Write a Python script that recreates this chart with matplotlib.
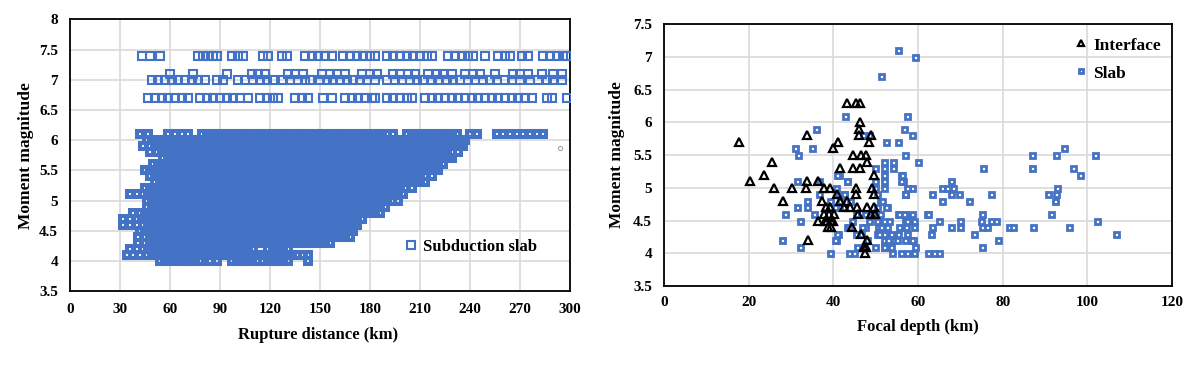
import matplotlib
matplotlib.use('Agg')
import matplotlib.pyplot as plt

plt.rcParams['font.family'] = 'Liberation Serif'
plt.rcParams['font.weight'] = 'bold'

# ---- left panel: subduction slab records, rupture distance (km) per magnitude row
r74 = [43, 48, 54, 77, 80, 83, 86, 88, 97, 101, 104, 116, 119, 127, 130, 141, 145, 149, 153, 157,
       164, 168, 172, 176, 180, 183, 190, 194, 198, 202, 206, 210, 214, 217, 227, 231, 235, 239, 242,
       249, 257, 261, 264, 271, 275, 284, 288, 292, 296, 298]
r71 = [60, 74, 94, 109, 113, 117, 131, 135, 140, 151, 156, 160, 165, 175, 180, 184, 194, 198, 203,
       207, 215, 220, 224, 229, 237, 242, 246, 255, 266, 270, 275, 283, 290, 295]
r70 = [49, 53, 57, 61, 65, 69, 73, 77, 81, 88, 92, 101, 105, 110, 114, 118, 122, 128, 132, 137, 141,
       144, 150, 154, 158, 162, 166, 170, 174, 178, 183, 190, 195, 199, 204, 208, 212, 217, 221, 226,
       230, 234, 239, 243, 248, 252, 256, 261, 265, 270, 276, 281, 286, 290, 295]
r67 = [47, 51, 55, 59, 63, 67, 71, 78, 82, 86, 90, 94, 98, 102, 107, 114, 118, 122, 125, 135, 139,
       143, 152, 157, 165, 169, 173, 177, 181, 183, 190, 194, 198, 202, 205, 213, 217, 221, 225, 229,
       233, 237, 241, 245, 249, 253, 257, 261, 265, 269, 273, 277, 286, 289, 298]
r61 = [42, 47, 59, 63, 67, 71, 79, 82, 85, 88, 91, 94, 97, 100, 103, 106, 109, 112, 115, 118, 121,
       124, 127, 130, 133, 136, 139, 142, 145, 148, 151, 154, 157, 160, 163, 166, 169, 172, 175, 178,
       181, 184, 187, 190, 194, 202, 205, 208, 211, 214, 217, 220, 223, 226, 229, 232, 240, 244, 256,
       260, 264, 268, 272, 276, 280, 284]
r60 = [46, 49, 52, 55, 58, 61, 64, 67, 70, 73, 76, 79, 82, 85, 88, 91, 94, 97, 100, 103, 106, 109,
       112, 115, 118, 121, 124, 127, 130, 133, 136, 139, 142, 145, 148, 151, 154, 157, 160, 163, 166,
       169, 172, 175, 178, 181, 184, 187, 190, 193, 196, 199, 202, 205, 208, 211, 214, 217, 220, 223,
       226, 229, 232, 235, 237]
r59 = [44, 48, 51, 54, 57, 60, 63, 66, 69, 72, 75, 78, 81, 84, 87, 90, 93, 96, 99, 102, 105, 108,
       111, 114, 117, 120, 123, 126, 129, 132, 135, 138, 141, 144, 147, 150, 153, 156, 159, 162, 165,
       168, 171, 174, 177, 180, 183, 186, 189, 192, 195, 198, 201, 204, 207, 210, 213, 216, 219, 222,
       225, 228, 231, 234, 236]
r58 = [48, 52, 55, 58, 61, 64, 67, 70, 73, 76, 79, 82, 85, 88, 91, 94, 97, 100, 103, 106, 109, 112,
       115, 118, 121, 124, 127, 130, 133, 136, 139, 142, 145, 148, 151, 154, 157, 160, 163, 166, 169,
       172, 175, 178, 181, 184, 187, 190, 193, 196, 199, 202, 205, 208, 211, 214, 217, 220, 223, 226,
       229, 233]
r57 = [56, 59, 62, 65, 68, 71, 74, 77, 80, 83, 86, 89, 92, 95, 98, 101, 104, 107, 110, 113, 116,
       119, 122, 125, 128, 131, 134, 137, 140, 143, 146, 149, 152, 155, 158, 161, 164, 167, 170, 173,
       176, 179, 182, 185, 188, 191, 194, 197, 200, 203, 206, 209, 212, 215, 218, 221, 224, 227, 229]
r56 = [50, 53, 56, 59, 62, 65, 68, 71, 74, 77, 80, 83, 86, 89, 92, 95, 98, 101, 104, 107, 110, 113,
       116, 119, 122, 125, 128, 131, 134, 137, 140, 143, 146, 149, 152, 155, 158, 161, 164, 167, 170,
       173, 176, 179, 182, 185, 188, 191, 194, 197, 200, 203, 206, 209, 212, 215, 218, 221, 224]
r55 = [45, 48, 51, 54, 57, 60, 63, 66, 69, 72, 75, 78, 81, 84, 87, 90, 93, 96, 99, 102, 105, 108,
       111, 114, 117, 120, 123, 126, 129, 132, 135, 138, 141, 144, 147, 150, 153, 156, 159, 162, 165,
       168, 171, 174, 177, 180, 183, 186, 189, 192, 195, 198, 201, 204, 207, 210, 213, 216, 219, 221]
r54 = [48, 51, 54, 57, 60, 63, 66, 69, 72, 75, 78, 81, 84, 87, 90, 93, 96, 99, 102, 105, 108, 111,
       114, 117, 120, 123, 126, 129, 132, 135, 138, 141, 144, 147, 150, 153, 156, 159, 162, 165, 168,
       171, 174, 177, 180, 183, 186, 189, 192, 195, 198, 201, 204, 207, 210, 213, 217]
r53 = [51, 54, 57, 60, 63, 66, 69, 72, 75, 78, 81, 84, 87, 90, 93, 96, 99, 102, 105, 108, 111, 114,
       117, 120, 123, 126, 129, 132, 135, 138, 141, 144, 147, 150, 153, 156, 159, 162, 165, 168, 171,
       174, 177, 180, 183, 186, 189, 192, 195, 198, 201, 204, 207, 210, 213]
r52 = [45, 48, 51, 54, 57, 60, 63, 66, 69, 72, 75, 78, 81, 84, 87, 90, 93, 96, 99, 102, 105, 108,
       111, 114, 117, 120, 123, 126, 129, 132, 135, 138, 141, 144, 147, 150, 153, 156, 159, 162, 165,
       168, 171, 174, 177, 180, 183, 186, 189, 192, 195, 198, 201, 205]
r51 = [36, 40, 44, 47, 50, 53, 56, 59, 62, 65, 68, 71, 74, 77, 80, 83, 86, 89, 92, 95, 98, 101, 104,
       107, 110, 113, 116, 119, 122, 125, 128, 131, 134, 137, 140, 143, 146, 149, 152, 155, 158, 161,
       164, 167, 170, 173, 176, 179, 182, 185, 188, 191, 194, 197, 200]
r50 = [46, 49, 52, 55, 58, 61, 64, 67, 70, 73, 76, 79, 82, 85, 88, 91, 94, 97, 100, 103, 106, 109,
       112, 115, 118, 121, 124, 127, 130, 133, 136, 139, 142, 145, 148, 151, 154, 157, 160, 163, 166,
       169, 172, 175, 178, 181, 184, 187, 190, 193, 197]
r49 = [46, 49, 52, 55, 58, 61, 64, 67, 70, 73, 76, 79, 82, 85, 88, 91, 94, 97, 100, 103, 106, 109,
       112, 115, 118, 121, 124, 127, 130, 133, 136, 139, 142, 145, 148, 151, 154, 157, 160, 163, 166,
       169, 172, 175, 178, 181, 184, 186, 189]
r48 = [38, 42, 45, 48, 51, 54, 57, 60, 63, 66, 69, 72, 75, 78, 81, 84, 87, 90, 93, 96, 99, 102, 105,
       108, 111, 114, 117, 120, 123, 126, 129, 132, 135, 138, 141, 144, 147, 150, 153, 156, 159, 162,
       165, 168, 171, 174, 177, 180, 183, 186]
r47 = [32, 36, 40, 43, 46, 49, 52, 55, 58, 61, 64, 67, 70, 73, 76, 79, 82, 85, 88, 91, 94, 97, 100,
       103, 106, 109, 112, 115, 118, 121, 124, 127, 130, 133, 136, 139, 142, 145, 148, 151, 154, 157,
       160, 163, 166, 169, 172, 175]
r46 = [32, 36, 40, 44, 47, 50, 53, 56, 59, 62, 65, 68, 71, 74, 77, 80, 83, 86, 89, 92, 95, 98, 101,
       104, 107, 110, 113, 116, 119, 122, 125, 128, 131, 134, 137, 140, 143, 146, 149, 152, 155, 158,
       161, 164, 167, 170, 172]
r45 = [42, 45, 48, 51, 54, 57, 60, 63, 66, 69, 72, 75, 78, 81, 84, 87, 90, 93, 96, 99, 102, 105, 108,
       111, 114, 117, 120, 123, 126, 129, 132, 135, 138, 141, 144, 147, 150, 153, 156, 159, 162, 165,
       168, 170]
r44 = [41, 45, 48, 51, 54, 57, 60, 63, 66, 69, 72, 75, 78, 81, 84, 87, 90, 93, 96, 99, 102, 105, 108,
       111, 114, 117, 120, 123, 126, 129, 132, 135, 138, 141, 144, 147, 150, 153, 156, 159, 162, 165,
       168]
r43 = [41, 45, 48, 51, 54, 57, 60, 63, 66, 69, 72, 75, 78, 81, 84, 87, 90, 93, 96, 99, 102, 105, 108,
       111, 114, 117, 120, 123, 126, 129, 132, 135, 138, 141, 144, 147, 150, 153, 156]
r42 = [36, 40, 44, 47, 50, 53, 56, 59, 62, 65, 68, 71, 74, 77, 80, 83, 86, 89, 92, 95, 98, 101, 104,
       107, 110, 119, 122, 125, 128, 131]
r41 = [34, 38, 42, 46, 49, 52, 55, 58, 61, 64, 67, 70, 73, 76, 79, 82, 85, 88, 91, 94, 97, 100, 103,
       106, 109, 112, 115, 118, 121, 124, 127, 130, 133, 136, 140, 143]
r40 = [54, 57, 60, 63, 66, 69, 72, 75, 78, 84, 88, 97, 100, 103, 106, 109, 112, 116, 119, 122, 125,
       128, 131, 143]
sparse_mags = [7.4, 7.1, 7.0, 6.7]
sparse_dists = [r74, r71, r70, r67]
dense_mags = [6.1, 6.0, 5.9, 5.8, 5.7, 5.6, 5.5, 5.4, 5.3, 5.2, 5.1, 5.0,
              4.9, 4.8, 4.7, 4.6, 4.5, 4.4, 4.3, 4.2, 4.1, 4.0]
dense_dists = [r61, r60, r59, r58, r57, r56, r55, r54, r53, r52, r51, r50,
               r49, r48, r47, r46, r45, r44, r43, r42, r41, r40]
odd_dist, odd_mag = [294], [5.87]

# ---- right panel: focal depth (km) vs magnitude
iface_depth = [17.6, 20.2, 23.6, 25.6, 26.0, 28.0, 30.2, 33.6, 33.8, 33.8, 34.0, 36.3, 36.4, 37.3,
               37.7, 37.9, 38.6, 38.7, 39.0, 39.2, 39.3, 39.5, 39.9, 40.2, 40.9, 41.0, 41.5, 41.5,
               42.5, 43.2, 43.2, 44.0, 44.4, 44.6, 44.7, 45.4, 45.4, 45.4, 45.6, 45.7, 46.0, 46.0,
               46.2, 46.2, 46.4, 46.6, 47.3, 47.4, 47.8, 47.8, 48.0, 48.0, 48.0, 48.4, 48.8, 48.8,
               49.2, 49.5, 49.5, 49.7, 49.8, 38.0, 39.5, 40.0, 38.3, 46.6]
iface_mag = [5.7, 5.1, 5.2, 5.4, 5.0, 4.8, 5.0, 5.0, 5.1, 5.8, 4.2, 4.5, 5.1, 4.8,
             4.6, 5.0, 4.5, 4.4, 4.6, 4.7, 5.0, 4.5, 5.6, 4.6, 4.9, 5.7, 4.8, 5.3,
             4.7, 6.3, 4.8, 4.7, 4.4, 5.3, 5.5, 5.0, 4.9, 6.3, 4.7, 4.6, 5.9, 5.8,
             6.3, 6.0, 5.3, 5.5, 4.1, 4.0, 4.1, 5.5, 5.4, 4.7, 4.2, 5.7, 5.8, 4.6,
             5.0, 4.9, 4.7, 5.2, 4.6, 4.5, 4.4, 4.5, 4.7, 4.3]
slab_depth = [55.2, 59.3, 51.3, 42.8, 57.4, 36.0, 56.6, 58.6, 47.1, 48.3, 31.0, 35.0, 31.6, 52.5,
              55.3, 56.8, 60.0, 49.9, 51.9, 54.0, 52.0, 54.1, 52.0, 55.9, 49.9, 52.0, 56.4, 58.6,
              57.0, 49.9, 52.0, 50.2, 51.1, 52.7, 50.2, 41.3, 43.2, 40.7, 42.4, 41.1, 39.3, 40.1,
              41.4, 44.0, 31.4, 33.8, 31.4, 33.7, 35.5, 28.6, 32.0, 36.5, 36.5, 27.9, 32.2, 39.3,
              40.7, 41.0, 43.2, 44.4, 45.3, 43.6, 44.8, 45.5, 48.0, 50.2, 52.0, 53.6, 52.7, 50.5,
              55.2, 56.8, 58.7, 55.5, 57.1, 55.3, 56.8, 58.6, 57.0, 59.0, 62.2, 53.9, 55.9, 57.4,
              59.0, 49.9, 52.0, 46.3, 47.4, 46.8, 48.4, 50.4, 43.6, 45.3, 47.4, 49.3, 75.3, 87.0,
              86.9, 92.6, 94.5, 101.9, 96.5, 98.2, 92.8, 90.8, 92.7, 92.4, 91.4, 87.2, 95.7, 102.3,
              106.8, 81.5, 82.5, 77.2, 78.3, 75.2, 76.2, 74.8, 75.2, 73.1, 79.0, 75.2, 69.9, 67.7,
              69.9, 64.9, 63.4, 63.0, 62.3, 62.3, 63.8, 64.9, 63.4, 65.7, 65.7, 66.9, 67.9, 67.7,
              69.7, 72.0, 77.3, 68.2, 59.2, 54.3, 55.1, 58.6, 51.9, 51.9, 57.4, 59.0, 55.5, 56.7,
              57.3, 52.5, 51.5, 57.0, 57.4, 55.9, 56.3, 40.9, 43.2, 51.2, 52.0, 51.0, 53.2, 50.8,
              53.0, 53.5, 40.9, 40.5, 39.3, 40.5, 42.5, 41.5, 42.5, 46.6]
slab_mag = [7.1, 7.0, 6.7, 6.1, 6.1, 5.9, 5.9, 5.8, 5.8, 5.8, 5.6, 5.6, 5.5, 5.7,
            5.7, 5.5, 5.4, 5.3, 5.4, 5.4, 5.3, 5.3, 5.2, 5.2, 5.1, 5.1, 5.1, 5.0,
            4.9, 5.0, 5.0, 4.9, 4.8, 4.7, 4.7, 5.2, 5.1, 5.0, 4.9, 4.9, 4.8, 4.7,
            4.7, 4.8, 5.1, 4.8, 4.7, 4.7, 4.6, 4.6, 4.5, 5.1, 4.9, 4.2, 4.1, 4.0,
            4.2, 4.3, 4.4, 4.5, 4.6, 4.0, 4.0, 4.1, 4.2, 4.3, 4.3, 4.3, 4.4, 4.4,
            4.3, 4.2, 4.2, 4.4, 4.4, 4.6, 4.6, 4.6, 4.5, 4.5, 4.6, 4.0, 4.0, 4.0,
            4.0, 4.1, 4.1, 4.3, 4.4, 4.4, 4.5, 4.5, 4.4, 4.3, 4.6, 4.6, 5.3, 5.5,
            5.3, 5.5, 5.6, 5.5, 5.3, 5.2, 5.0, 4.9, 4.9, 4.8, 4.6, 4.4, 4.4, 4.5,
            4.3, 4.4, 4.4, 4.5, 4.5, 4.4, 4.4, 4.5, 4.6, 4.3, 4.2, 4.1, 4.4, 4.4,
            4.5, 4.5, 4.4, 4.3, 4.6, 4.0, 4.0, 4.0, 4.9, 4.8, 5.0, 5.0, 5.1, 4.9,
            4.9, 4.8, 4.9, 5.0, 4.1, 4.2, 4.2, 4.2, 4.2, 4.1, 4.3, 4.4, 4.6, 4.6,
            4.5, 4.7, 4.8, 4.9, 5.0, 5.1, 5.2, 5.2, 5.1, 4.4, 4.5, 4.6, 4.5, 4.3,
            4.2, 4.1, 4.3, 4.2, 4.7, 4.7, 4.7, 4.8, 4.9, 4.3]

blue = '#4472C4'

fig = plt.figure(figsize=(11.96, 3.65), dpi=100)
ax1 = fig.add_axes([0.0585, 0.2027, 0.4181, 0.7439])
ax2 = fig.add_axes([0.5552, 0.2164, 0.4248, 0.7178])

# left panel
first = True
for m, ds in zip(sparse_mags, sparse_dists):
    ax1.plot(ds, [m] * len(ds), linestyle='none', marker='s', markersize=5.2,
             markerfacecolor='none', markeredgecolor=blue, markeredgewidth=1.5,
             label='Subduction slab' if first else None, zorder=3)
    first = False
for m, ds in zip(dense_mags, dense_dists):
    ax1.plot(ds, [m] * len(ds), linestyle='none', marker='s', markersize=4.3,
             markerfacecolor='none', markeredgecolor=blue, markeredgewidth=2.9, zorder=3)
ax1.plot(odd_dist, odd_mag, linestyle='none', marker='o', markersize=3,
         markerfacecolor='none', markeredgecolor='#a6a6a6', markeredgewidth=0.8, zorder=3)

ax1.set_xlim(0, 300)
ax1.set_ylim(3.5, 8)
ax1.set_xticks(range(0, 301, 30))
ax1.set_yticks([3.5, 4, 4.5, 5, 5.5, 6, 6.5, 7, 7.5, 8])
ax1.set_yticklabels(['3.5', '4', '4.5', '5', '5.5', '6', '6.5', '7', '7.5', '8'])
ax1.set_xlabel('Rupture distance (km)', fontsize=12, fontweight='bold')
ax1.set_ylabel('Moment magnitude', fontsize=12.5, fontweight='bold')
ax1.xaxis.set_label_coords(0.497, -0.132)
ax1.yaxis.set_label_coords(-0.088, 0.5)
ax1.yaxis.label.set_va('center')
ax1.legend(loc='center left', bbox_to_anchor=(0.652, 0.163), frameon=False, borderpad=0,
           handlelength=0.8, handletextpad=0.3, prop={'size': 12, 'weight': 'bold'})

# right panel
ax2.plot(slab_depth, slab_mag, linestyle='none', marker='s', markersize=3.6,
         markerfacecolor='white', markeredgecolor=blue, markeredgewidth=2.0, label='Slab', zorder=3)
ax2.plot(iface_depth, iface_mag, linestyle='none', marker='^', markersize=6.0,
         markerfacecolor='none', markeredgecolor='black', markeredgewidth=1.6, label='Interface', zorder=4)
ax2.set_xlim(0, 120)
ax2.set_ylim(3.5, 7.5)
ax2.set_xticks(range(0, 121, 20))
ax2.set_yticks([3.5, 4, 4.5, 5, 5.5, 6, 6.5, 7, 7.5])
ax2.set_yticklabels(['3.5', '4', '4.5', '5', '5.5', '6', '6.5', '7', '7.5'])
ax2.set_xlabel('Focal depth (km)', fontsize=12, fontweight='bold')
ax2.set_ylabel('Moment magnitude', fontsize=12.5, fontweight='bold')
ax2.xaxis.set_label_coords(0.499, -0.126)
ax2.yaxis.set_label_coords(-0.0925, 0.5)
ax2.yaxis.label.set_va('center')
h, l = ax2.get_legend_handles_labels()
ax2.legend(h[::-1], l[::-1], loc='upper left', bbox_to_anchor=(0.79, 0.982), frameon=False,
           borderpad=0, handlelength=0.8, handletextpad=0.3, labelspacing=0.68,
           markerscale=0.8, prop={'size': 12.5, 'weight': 'bold'})

for ax, xpad, ypad in [(ax1, 8.3, 8.6), (ax2, 7.5, 8.6)]:
    ax.grid(True, color='#d9d9d9', linewidth=1.2)
    ax.set_axisbelow(True)
    for s in ax.spines.values():
        s.set_color('black')
        s.set_linewidth(1.3)
    ax.tick_params(axis='x', length=0, pad=xpad, labelsize=11)
    ax.tick_params(axis='y', length=0, pad=ypad, labelsize=11)
    for t in ax.get_xticklabels() + ax.get_yticklabels():
        t.set_fontweight('bold')

fig.savefig('out.png', dpi=100)
